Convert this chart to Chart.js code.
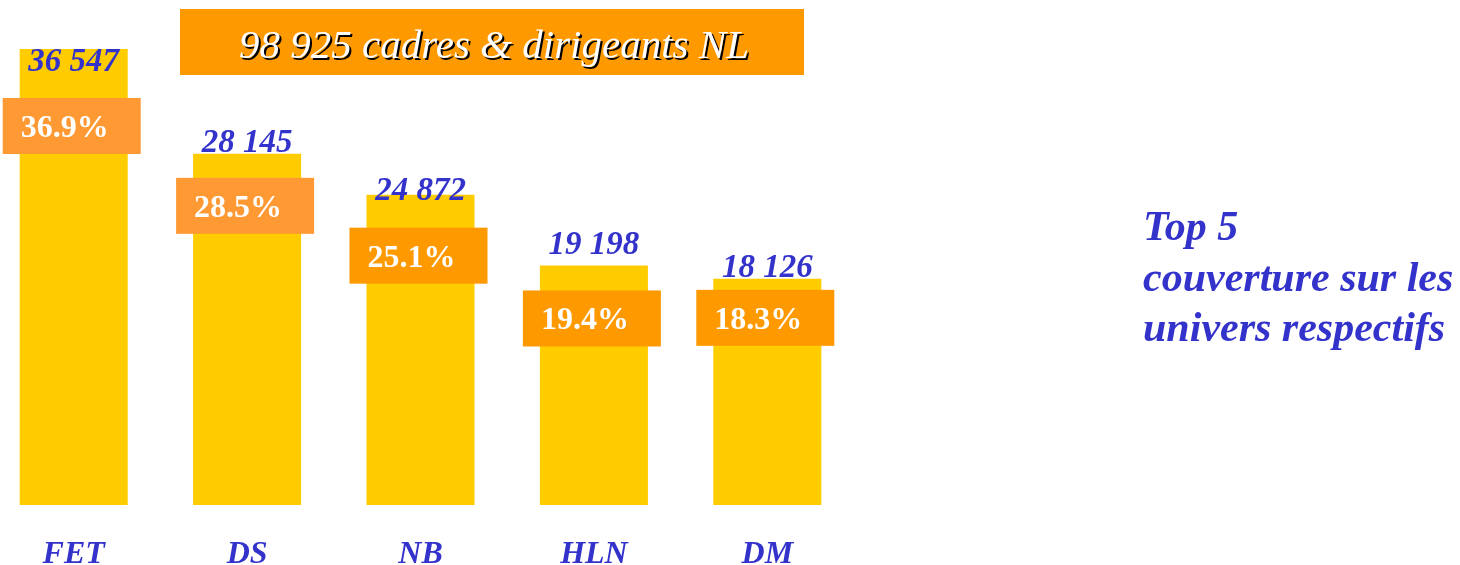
<!DOCTYPE html>
<html>
<head>
<meta charset="utf-8">
<script src="https://cdn.jsdelivr.net/npm/chart.js@4.4.0/dist/chart.umd.min.js"></script>
<style>
  html, body { margin: 0; padding: 0; background: #fff; overflow: hidden; }
  #wrap { position: absolute; left: -13px; top: 0; width: 1473px; height: 565px; }
</style>
</head>
<body>
<div id="wrap"><canvas id="chart"></canvas></div>
<script>
const SERIF = "'Liberation Serif', 'Times New Roman', serif";
const BLUE = "#3333CC";

// data
const categories = ["FET", "DS", "NB", "HLN", "DM"];
const counts = [36547, 28145, 24872, 19198, 18126];
const shares = [36.9, 28.5, 25.1, 19.4, 18.3];
const title = "98 925 cadres & dirigeants NL";
const sideText = ["Top 5", "couverture sur les", "univers respectifs"];

// styling for the overlay boxes (not data)
const boxColors = ["#FF9933", "#FF9933", "#FF9900", "#FF9900", "#FF9900"];
const boxDrop = [49, 24, 33, 25, 11];      // box top below bar top
const countDy = [22, -2, 5, -11, -2];      // count baseline vs bar top

function fmt(n) {
  return String(n).replace(/\B(?=(\d{3})+(?!\d))/g, " ");
}

const overlay = {
  id: "overlay",
  afterDatasetsDraw(chart) {
    const ctx = chart.ctx;
    const meta = chart.getDatasetMeta(0);
    ctx.save();

    // title box
    ctx.fillStyle = "#FF9900";
    ctx.fillRect(193, 9, 624, 66);
    ctx.font = "italic 41px " + SERIF;
    ctx.textAlign = "center";
    ctx.textBaseline = "alphabetic";
    ctx.fillStyle = "#000";
    ctx.fillText(title, 507 + 2, 58 + 2);
    ctx.fillStyle = "#fff";
    ctx.fillText(title, 507, 58);

    meta.data.forEach((bar, i) => {
      const cx = bar.x;
      const top = bar.y;

      // share box
      const bx = cx - 71, by = top + boxDrop[i];
      ctx.fillStyle = boxColors[i];
      ctx.fillRect(bx, by, 138, 56);
      ctx.fillStyle = "#fff";
      ctx.font = "bold 32px " + SERIF;
      ctx.textAlign = "left";
      ctx.fillText(shares[i].toFixed(1) + "%", bx + 18, by + 39);

      // count label
      ctx.fillStyle = BLUE;
      ctx.font = "italic bold 33px " + SERIF;
      ctx.textAlign = "center";
      ctx.fillText(fmt(counts[i]), cx, top + countDy[i]);
    });

    // side note
    ctx.fillStyle = BLUE;
    ctx.font = "italic bold 42px " + SERIF;
    ctx.textAlign = "left";
    const ys = [240, 291, 341];
    sideText.forEach((t, i) => ctx.fillText(t, 1156, ys[i]));

    ctx.restore();
  }
};

new Chart(document.getElementById("chart"), {
  type: "bar",
  data: {
    labels: categories,
    datasets: [{
      data: counts,
      backgroundColor: "#FFCC00",
      borderWidth: 0,
      categoryPercentage: 1,
      barPercentage: 0.623
    }]
  },
  options: {
    responsive: true,
    maintainAspectRatio: false,
    animation: false,
    layout: { padding: { top: 49, right: 606, left: 0, bottom: 0 } },
    plugins: { legend: { display: false }, tooltip: { enabled: false } },
    scales: {
      y: {
        display: false,
        min: 0,
        max: Math.max(...counts)
      },
      x: {
        grid: { display: false },
        border: { display: false },
        ticks: {
          color: BLUE,
          padding: 23,
          font: { family: SERIF, size: 32, style: "italic", weight: "bold" }
        },
        afterFit: s => { s.height = 60; }
      }
    }
  },
  plugins: [overlay]
});
</script>
</body>
</html>
